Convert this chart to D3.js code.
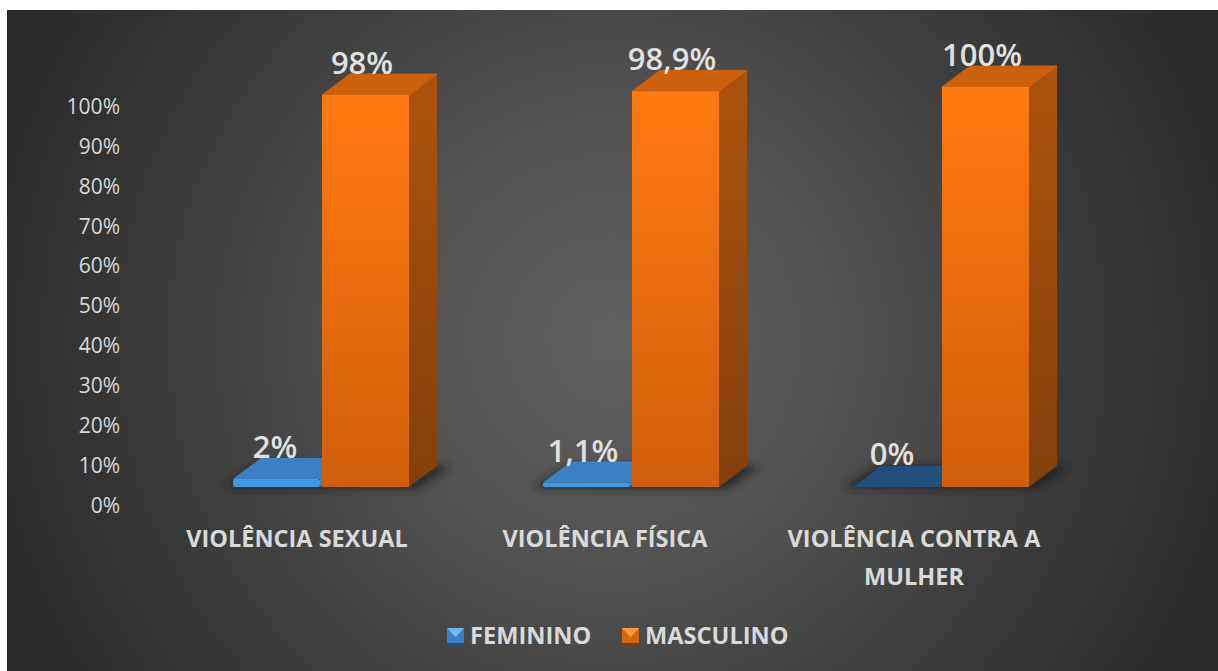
<!DOCTYPE html>
<html><head><meta charset="utf-8">
<script src="https://cdnjs.cloudflare.com/ajax/libs/d3/7.8.5/d3.min.js"></script>
<style>html,body{margin:0;padding:0;background:#fff;overflow:hidden}svg{display:block}text{font-family:"Open Sans",sans-serif}</style>
</head><body><svg id="c" width="1218" height="671"></svg>
<script>
const categories = ["VIOLÊNCIA SEXUAL","VIOLÊNCIA FÍSICA","VIOLÊNCIA CONTRA A MULHER"];
const feminino = [2,1.1,0];
const masculino = [98,98.9,100];
const femininoLabels = ["2%","1,1%","0%"];
const masculinoLabels = ["98%","98,9%","100%"];
const seriesNames = ["FEMININO","MASCULINO"];
const tickValues = d3.range(0,101,10);

const svg = d3.select("#c");
const defs = svg.append("defs");
const W=1218,H=671;
const bg = defs.append("radialGradient").attr("id","bg").attr("gradientUnits","userSpaceOnUse")
  .attr("cx",612).attr("cy",340).attr("r",640);
[[0,"#5f5f5f"],[0.35,"#525252"],[0.7,"#3c3c3c"],[1,"#2a2a2a"]].forEach(s=>bg.append("stop").attr("offset",s[0]).attr("stop-color",s[1]));
function vgrad(id,a,b){const g=defs.append("linearGradient").attr("id",id).attr("x1",0).attr("y1",0).attr("x2",0).attr("y2",1);
  g.append("stop").attr("offset",0).attr("stop-color",a);g.append("stop").attr("offset",1).attr("stop-color",b);}
vgrad("orF","#ff7a11","#cf5f0c");
vgrad("orS","#ac520c","#843f0a");
defs.append("filter").attr("id","blur").attr("x","-30%").attr("y","-100%").attr("width","160%").attr("height","300%")
  .append("feGaussianBlur").attr("stdDeviation",4);

svg.append("rect").attr("x",7).attr("y",10).attr("width",W-7).attr("height",H-10).attr("fill","url(#bg)");

const y = d3.scaleLinear().domain([0,100]).range([487,87]);
const yAxisScale = d3.scaleLinear().domain([0,100]).range([505,106]);
const x0 = d3.scaleBand().domain(categories).range([142,1072]).paddingInner(0).paddingOuter(0);
const x1 = d3.scaleBand().domain(seriesNames).range([91,269]).padding(0);
const dx=28, dy=-21, bw=87;

// value axis labels
const ax = svg.append("g").attr("transform","translate(120,0)")
  .call(d3.axisLeft(yAxisScale).tickValues(tickValues).tickFormat(d=>d+"%").tickSize(0).tickPadding(0));
ax.select(".domain").remove();
ax.selectAll("text").attr("fill","#d9d9d9").style("font-family",'"Open Sans",sans-serif').style("font-size","21px").attr("dy","0.35em");

// bars
categories.forEach((c,i)=>{
  const g = svg.append("g");
  const xb = x0(c)+x1("FEMININO"), xo = x0(c)+x1("MASCULINO");
  const base = y(0);
  g.append("path").attr("d",`M${xb-10},${base+1}L${xb+dx-4},${base+dy}L${xo+bw+dx+14},${base+dy}L${xo+bw+8},${base+2}Z`)
    .attr("fill","#1d1d1d").attr("opacity",0.75).attr("filter","url(#blur)");
  const yf = y(feminino[i]);
  if(feminino[i]>0){
    g.append("path").attr("d",`M${xb+dx},${yf+dy}H${xb+bw+dx}V${base+dy}L${xb+bw},${base}V${yf}H${xb}Z`).attr("fill","#3a80c2");
    g.append("rect").attr("x",xb).attr("y",yf).attr("width",bw).attr("height",base-yf).attr("rx",2).attr("fill","#419ae6");
  } else {
    g.append("path").attr("d",`M${xb},${base}L${xb+dx},${base+dy}H${xb+bw+dx}L${xb+bw},${base}Z`).attr("fill","#21507d");
  }
  const ym = y(masculino[i]);
  g.append("path").attr("d",`M${xo+bw},${ym}L${xo+bw+dx},${ym+dy}V${base+dy}L${xo+bw},${base}Z`).attr("fill","url(#orS)");
  g.append("path").attr("d",`M${xo},${ym}L${xo+dx},${ym+dy}H${xo+bw+dx}L${xo+bw},${ym}Z`).attr("fill","#cc600d").attr("stroke","#cc600d").attr("stroke-width",1).attr("stroke-linejoin","round");
  g.append("rect").attr("x",xo).attr("y",ym).attr("width",bw).attr("height",base-ym).attr("fill","url(#orF)");
  g.append("text").attr("x",xb+bw/2+[-1.5,-3.5,-4.5][i]).attr("y",yf+dy+[0,0,-1][i]).attr("text-anchor","middle")
    .attr("fill","#e0e0e0").attr("font-size",31).attr("font-weight",600).text(femininoLabels[i]);
  g.append("text").attr("x",xo+bw/2-3.5).attr("y",ym+dy+[0,0,0][i]).attr("text-anchor","middle")
    .attr("fill","#e0e0e0").attr("font-size",31).attr("font-weight",600).text(masculinoLabels[i]);
});

// category labels
const catLines = [[categories[0]],[categories[1]],["VIOLÊNCIA CONTRA A","MULHER"]];
const catX = [297,605,914];
catLines.forEach((ls,i)=>ls.forEach((l,j)=>{
  svg.append("text").attr("x",catX[i]).attr("y",547+j*38).attr("text-anchor","middle")
    .attr("fill","#d9d9d9").attr("font-size",23.5).attr("font-weight",700).text(l);
}));

// legend
const legX=[447,622], textX=[470,645];
const legCols=[["#3a80c2","#6db8f2","#1f4e7c"],["#d4660f","#ff9a3c","#7f3d08"]];
seriesNames.forEach((n,i)=>{
  const g=svg.append("g"), x=legX[i], yy=628, s=17;
  g.append("rect").attr("x",x).attr("y",yy).attr("width",s).attr("height",s).attr("fill",legCols[i][0]);
  g.append("path").attr("d",`M${x},${yy}H${x+s}L${x+s/2},${yy+s*0.55}Z`).attr("fill",legCols[i][1]);
  g.append("rect").attr("x",x).attr("y",yy+s-2).attr("width",s).attr("height",2).attr("fill",legCols[i][2]);
  g.append("text").attr("x",textX[i]).attr("y",644).attr("fill","#d9d9d9").attr("font-size",23.6).attr("font-weight",700).text(n);
});
</script></body></html>
